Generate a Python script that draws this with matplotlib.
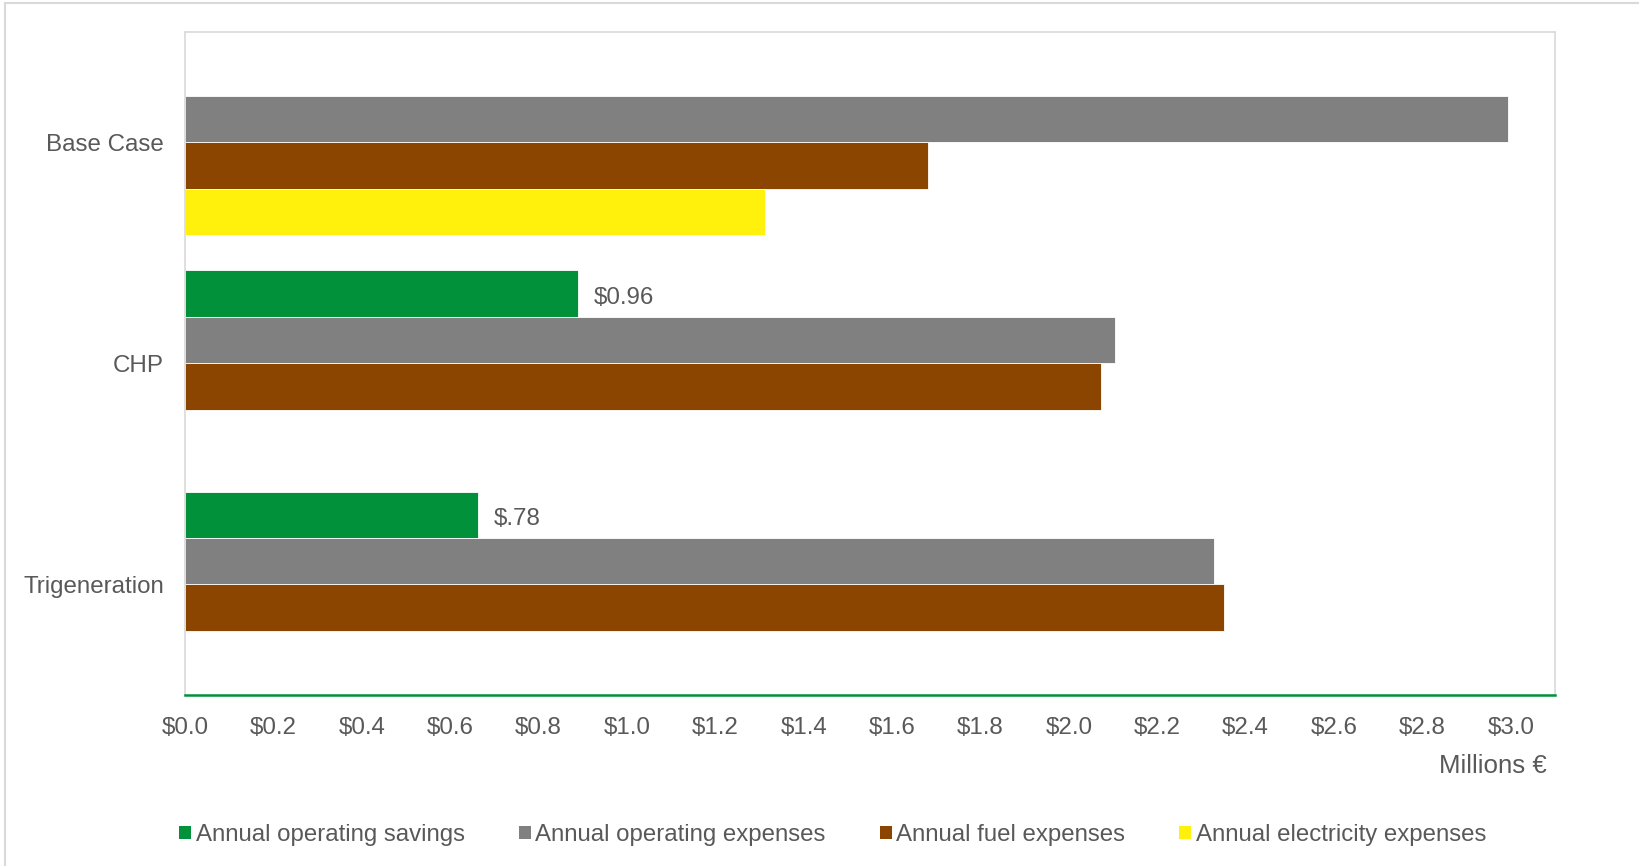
import matplotlib
matplotlib.use("Agg")
import matplotlib.pyplot as plt
from matplotlib.patches import Patch
from matplotlib.lines import Line2D
import numpy as np

plt.rcParams['font.family'] = ['Liberation Sans', 'DejaVu Sans']

# ---- data ----
categories = ["Base Case", "CHP", "Trigeneration"]
series_names = ["Annual operating savings", "Annual operating expenses",
                "Annual fuel expenses", "Annual electricity expenses"]
savings = [0.0, 0.889, 0.662]
operating = [2.993, 2.104, 2.329]
fuel = [1.681, 2.073, 2.352]
electricity = [1.312, 0.0, 0.0]
savings_labels = ["", "$0.96", "$.78"]
x_ticks = [0.0, 0.2, 0.4, 0.6, 0.8, 1.0, 1.2, 1.4, 1.6, 1.8, 2.0, 2.2, 2.4, 2.6, 2.8, 3.0]
x_tick_labels = ["$0.0", "$0.2", "$0.4", "$0.6", "$0.8", "$1.0", "$1.2", "$1.4",
                 "$1.6", "$1.8", "$2.0", "$2.2", "$2.4", "$2.6", "$2.8", "$3.0"]
axis_title = "Millions €"

colors = ["#00913A", "#808080", "#8C4500", "#FFF10C"]
text_color = "#595959"
fs = 17.4

W, H = 1639, 866
fig = plt.figure(figsize=(W / 100, H / 100), dpi=100)
fig.patch.set_facecolor("white")

ax = fig.add_axes([185 / W, 1 - 695 / H, 1370 / W, 663.5 / H])

y = np.arange(len(categories))
bw = 0.21
all_series = [savings, operating, fuel, electricity]
for i, (vals, c, name) in enumerate(zip(all_series, colors, series_names)):
    pos = y + (i - 1.5) * bw
    vals_arr = np.array(vals)
    mask = vals_arr > 0
    ax.barh(pos[mask], vals_arr[mask], height=bw, color=c, edgecolor="white",
            linewidth=0.6, label=name)
    if i == 0:
        for p, v, lab in zip(pos, vals, savings_labels):
            if lab:
                ax.annotate(lab, xy=(v, p), xytext=(16, -4), textcoords="offset pixels",
                            ha="left", va="center", fontsize=fs, color=text_color)

ax.set_xlim(0, 3.1)
ax.set_ylim(len(categories) - 0.5, -0.5)
ax.set_xticks(x_ticks)
ax.set_xticklabels(x_tick_labels)
ax.set_yticks(y)
ax.set_yticklabels(categories)
ax.tick_params(axis="both", length=0, labelsize=fs, labelcolor=text_color)
ax.tick_params(axis="x", pad=16)
ax.tick_params(axis="y", pad=15)

for s in ["left", "top", "right"]:
    ax.spines[s].set_color("#D9D9D9")
    ax.spines[s].set_linewidth(1.2)
ax.spines["bottom"].set_color("#00913A")
ax.spines["bottom"].set_linewidth(1.8)

fig.text(1547 / W, 1 - 766 / H, axis_title, ha="right", va="center",
         fontsize=18.6, color=text_color)

handles = [Patch(facecolor=c, edgecolor="none") for c in colors]
leg = fig.legend(handles, series_names, loc="center left",
                 bbox_to_anchor=(179 / W, 1 - 835 / H), bbox_transform=fig.transFigure,
                 ncol=4, frameon=False, fontsize=17.25, handlelength=0.5, handleheight=0.5,
                 handletextpad=0.2, columnspacing=2.25, borderpad=0, borderaxespad=0)
for t in leg.get_texts():
    t.set_color(text_color)

# outer chart border (left and top only visible)
fig.add_artist(Line2D([5 / W, 5 / W], [0, 1 - 3 / H], transform=fig.transFigure,
                      color="#D9D9D9", linewidth=1.5))
fig.add_artist(Line2D([5 / W, 1], [1 - 3 / H, 1 - 3 / H], transform=fig.transFigure,
                      color="#D9D9D9", linewidth=1.5))

fig.savefig("out.png", dpi=100, facecolor="white")
